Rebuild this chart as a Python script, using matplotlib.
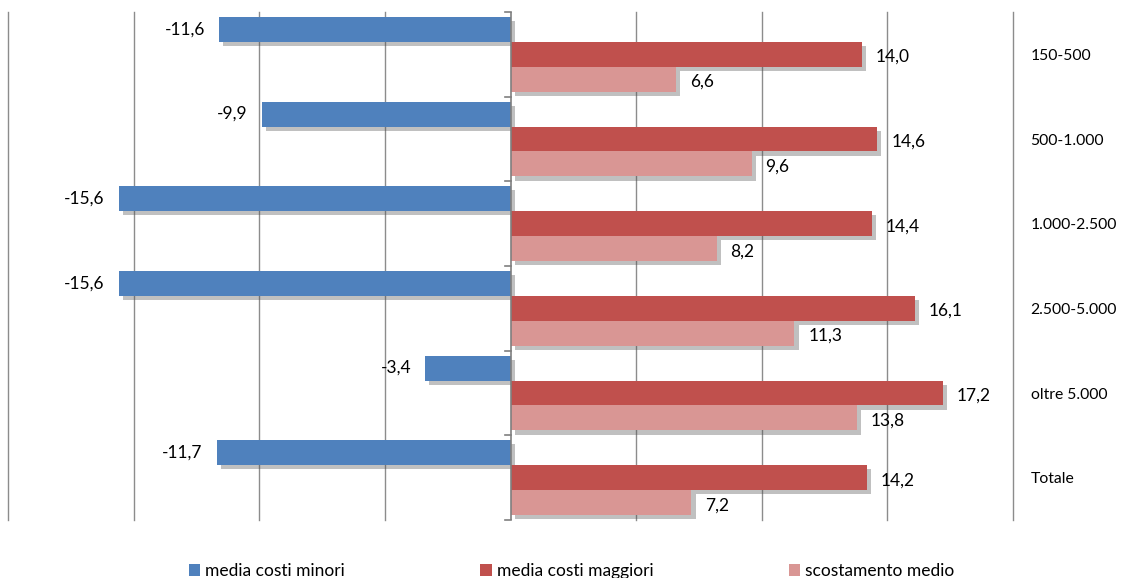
import numpy as np
import matplotlib
matplotlib.use("Agg")
import matplotlib.pyplot as plt
import matplotlib.patheffects as pe
from matplotlib.patches import Patch

# ==============================
# DATI
# ==============================
categorie = ['150-500', '500-1.000', '1.000-2.500', '2.500-5.000', 'oltre 5.000', 'Totale']
costi_minori = [-11.6, -9.9, -15.6, -15.6, -3.4, -11.7]
costi_maggiori = [14.0, 14.6, 14.4, 16.1, 17.2, 14.2]
scostamento = [6.6, 9.6, 8.2, 11.3, 13.8, 7.2]

serie = ['media costi minori', 'media costi maggiori', 'scostamento medio']
colori = ['#4F81BD', '#C0504D', '#D99694']

plt.rcParams['font.family'] = ['Lato', 'DejaVu Sans']
FS = 12.5

fig = plt.figure(figsize=(11.23, 5.78), dpi=100)
ax = fig.add_axes([8 / 1123, 58 / 578, 1005 / 1123, 508 / 578])

y = np.arange(len(categorie))
h = 0.295
ombra = [pe.SimplePatchShadow(offset=(3, -3), shadow_rgbFace='0.3', alpha=0.35), pe.Normal()]

valori = [costi_minori, costi_maggiori, scostamento]
offsets = [-h, 0, h]
for vals, off, col in zip(valori, offsets, colori):
    bars = ax.barh(y + off, vals, height=h, color=col, zorder=3)
    for b in bars:
        b.set_path_effects(ombra)
    for yi, v in zip(y + off, vals):
        testo = f"{v:.1f}".replace('.', ',')
        if v < 0:
            ax.text(v - 0.55, yi, testo, ha='right', va='center', fontsize=FS, zorder=5)
        else:
            ax.text(v + 0.55, yi + 0.03, testo, ha='left', va='center', fontsize=FS, zorder=5)

# etichette categorie a destra
for yi, c in zip(y, categorie):
    ax.text(20.7, yi + 0.02, c, ha='left', va='center', fontsize=11.3, clip_on=False)

ax.set_xlim(-20, 20)
ax.set_ylim(len(categorie) - 0.5, -0.5)
ax.set_xticks([])
ax.set_yticks([])
for s in ax.spines.values():
    s.set_visible(False)

# griglia verticale
for xg in np.arange(-20, 21, 5):
    if xg != 0:
        ax.axvline(xg, color='#8c8c8c', linewidth=1.0, zorder=0, clip_on=False)

# asse dello zero con tacche
ax.axvline(0, color='#7f7f7f', linewidth=1.2, zorder=4)
for yb in np.arange(-0.5, len(categorie), 1.0):
    ax.plot([-0.22, 0], [yb, yb], color='#7f7f7f', linewidth=1.2, zorder=4, clip_on=False)

handles = [Patch(facecolor=c, edgecolor='none') for c in colori]
fig.legend(handles, serie, loc='center', bbox_to_anchor=(0.509, 0.012), ncol=3,
           frameon=False, fontsize=FS, handlelength=0.65, handleheight=0.65,
           handletextpad=0.3, columnspacing=7.8)

fig.savefig('out.png', dpi=100)
